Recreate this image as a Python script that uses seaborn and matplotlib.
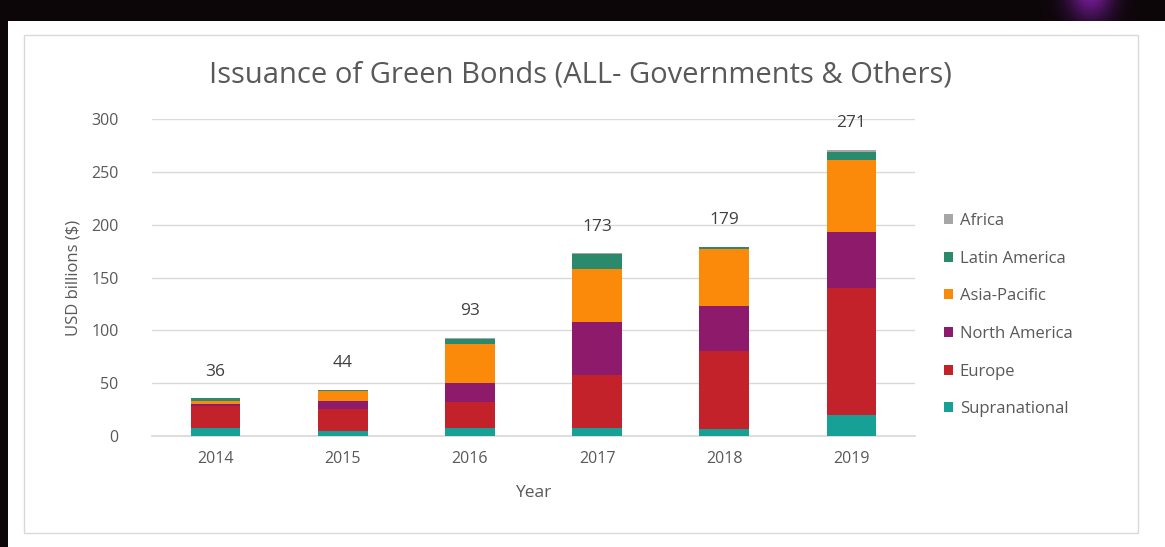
import matplotlib
matplotlib.use("Agg")
import matplotlib.pyplot as plt
import numpy as np
import pandas as pd
import seaborn as sns
from matplotlib.patches import Rectangle, Patch
from matplotlib.colors import LinearSegmentedColormap

years = ["2014", "2015", "2016", "2017", "2018", "2019"]
supranational = [8, 5, 8, 8, 7, 20]
europe = [20, 21, 24, 50, 73, 120]
north_america = [2, 7, 18, 50, 43, 53]
asia_pacific = [3.5, 10, 37, 50, 54, 68]
latin_america = [2, 0.7, 5, 14, 1.5, 8]
africa = [0.5, 0.3, 1, 1, 0.5, 2]
total_labels = ["36", "44", "93", "173", "179", "271"]

series_names = ["Supranational", "Europe", "North America", "Asia-Pacific", "Latin America", "Africa"]
series_values = [supranational, europe, north_america, asia_pacific, latin_america, africa]
colors = ["#17a096", "#c4222b", "#8e1a6c", "#fb8a0a", "#2b8a6c", "#a6a6a6"]

sns.set_theme(style="white")
plt.rcParams["font.family"] = ["Open Sans", "DejaVu Sans"]
text_gray = "#595959"

fig = plt.figure(figsize=(11.65, 5.47), dpi=100)
fig.patch.set_facecolor("#0d0609")

# white slide panel and chart frame
fig.patches.append(Rectangle((8 / 1165, 0), 1 - 8 / 1165, 1 - 21 / 547, transform=fig.transFigure,
                             facecolor="white", edgecolor="none", zorder=-10))
fig.patches.append(Rectangle((24 / 1165, 14 / 547), (1138 - 24) / 1165, (533 - 35) / 547,
                             transform=fig.transFigure, facecolor="white", edgecolor="#d9d9d9",
                             linewidth=1.0, zorder=-9))
# purple glow in top band
glow_ax = fig.add_axes([1000 / 1165, 1 - 21 / 547, 165 / 1165, 21 / 547], zorder=-8)
gx = np.linspace(-1, 1, 200)
gy = np.linspace(0, 1, 20)
GX, GY = np.meshgrid(gx, gy)
glow = np.exp(-((GX - 0.1) ** 2) / 0.08) * (0.4 + 0.6 * GY)
cmap = LinearSegmentedColormap.from_list("g", ["#0d0609", "#6a1a8a"])
glow_ax.imshow(glow, aspect="auto", cmap=cmap, origin="lower")
glow_ax.axis("off")

ax = fig.add_axes([152 / 1165, 111 / 547, (915 - 152) / 1165, (436 - 119) / 547])
ax.set_facecolor("none")

cum = np.zeros(len(years))
cums = []
for vals in series_values:
    cum = cum + np.array(vals, dtype=float)
    cums.append(cum.copy())

# draw cumulative layers from top to bottom
for name, c, col in reversed(list(zip(series_names, cums, colors))):
    d = pd.DataFrame({"Year": years, "v": c})
    sns.barplot(data=d, x="Year", y="v", color=col, width=0.39, ax=ax,
                saturation=1, edgecolor="none", linewidth=0, zorder=3)

totals = cums[-1]
for i, (t, lab) in enumerate(zip(totals, total_labels)):
    ax.annotate(lab, xy=(i, t), xytext=(0, 19), textcoords="offset points",
                ha="center", va="center", fontsize=12.5, color="#404040")

ax.set_ylim(0, 300)
ax.set_xlim(-0.5, 5.5)
ax.set_yticks(range(0, 301, 50))
ax.yaxis.grid(True, color="#d9d9d9", linewidth=1.0, zorder=0)
ax.set_axisbelow(True)
for s in ["top", "right", "left"]:
    ax.spines[s].set_visible(False)
ax.spines["bottom"].set_color("#d9d9d9")
ax.tick_params(axis="both", length=0, labelsize=11.5, labelcolor=text_gray)
ax.tick_params(axis="y", pad=24)
ax.tick_params(axis="x", pad=11)
for lbl in ax.get_yticklabels():
    lbl.set_horizontalalignment("right")
ax.set_xlabel("Year", fontsize=12.5, color=text_gray, labelpad=13)
ax.set_ylabel("USD billions ($)", fontsize=12, color=text_gray, labelpad=7)

fig.text(580 / 1165, 1 - 75 / 547, "Issuance of Green Bonds (ALL- Governments & Others)",
         ha="center", va="center", fontsize=21, color=text_gray)

handles = [Patch(facecolor=col, edgecolor="none", label=n)
           for n, col in reversed(list(zip(series_names, colors)))]
fig.legend(handles=handles, loc="upper left", bbox_to_anchor=(929 / 1165, 1 - 198 / 547),
           frameon=False, fontsize=12, labelcolor=text_gray, handlelength=0.55,
           handleheight=0.55, handletextpad=0.4, labelspacing=1.3)

fig.savefig("out.png", dpi=100, facecolor=fig.get_facecolor())
